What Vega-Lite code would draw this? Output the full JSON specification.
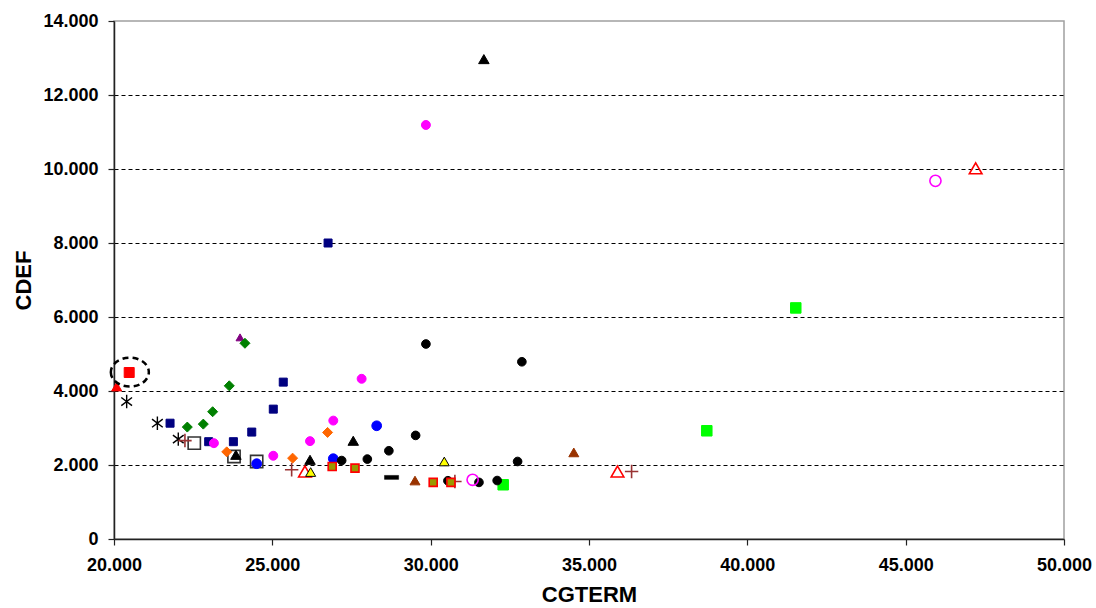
{
  "$schema": "https://vega.github.io/schema/vega-lite/v6.json",
  "width": 950,
  "height": 518,
  "autosize": {"type": "none"},
  "padding": {"left": 114, "top": 21, "right": 32, "bottom": 69},
  "background": "white",
  "config": {
    "view": {"stroke": "#a0a0a0", "strokeWidth": 1.5},
    "font": "Liberation Sans",
    "axis": {
      "labelFont": "Liberation Sans",
      "labelFontWeight": "bold",
      "labelFontSize": 18,
      "labelColor": "#000000",
      "labelFlush": false,
      "labelOverlap": false,
      "titleFont": "Liberation Sans",
      "titleFontWeight": "bold",
      "titleFontSize": 22,
      "titleColor": "#000000",
      "domainColor": "#222222",
      "domainWidth": 1.5,
      "tickColor": "#222222",
      "tickWidth": 1.2,
      "tickSize": 6
    }
  },
  "layer": [
    {
      "data": {
        "values": [
          {"CGTERM": 31680, "CDEF": 12970, "series": "black_tri"},
          {"CGTERM": 29850, "CDEF": 11190, "series": "magenta_circ"},
          {"CGTERM": 45940, "CDEF": 9680, "series": "magenta_open_circ"},
          {"CGTERM": 47210, "CDEF": 10020, "series": "red_open_tri"},
          {"CGTERM": 26760, "CDEF": 8000, "series": "navy_sq"},
          {"CGTERM": 41530, "CDEF": 6245, "series": "lime_sq"},
          {"CGTERM": 38720, "CDEF": 2925, "series": "lime_sq"},
          {"CGTERM": 32290, "CDEF": 1466, "series": "lime_sq"},
          {"CGTERM": 23980, "CDEF": 5450, "series": "purple_tri"},
          {"CGTERM": 24135, "CDEF": 5290, "series": "green_dia"},
          {"CGTERM": 29850, "CDEF": 5270, "series": "black_circ"},
          {"CGTERM": 32880, "CDEF": 4790, "series": "black_circ"},
          {"CGTERM": 20480, "CDEF": 4500, "series": "red_sq"},
          {"CGTERM": 20085, "CDEF": 4120, "series": "red_tri"},
          {"CGTERM": 20400, "CDEF": 3715, "series": "asterisk"},
          {"CGTERM": 21370, "CDEF": 3130, "series": "asterisk"},
          {"CGTERM": 22030, "CDEF": 2700, "series": "asterisk"},
          {"CGTERM": 21770, "CDEF": 3130, "series": "navy_sq"},
          {"CGTERM": 22990, "CDEF": 2630, "series": "navy_sq"},
          {"CGTERM": 24350, "CDEF": 2890, "series": "navy_sq"},
          {"CGTERM": 23770, "CDEF": 2630, "series": "navy_sq"},
          {"CGTERM": 25030, "CDEF": 3510, "series": "navy_sq"},
          {"CGTERM": 25345, "CDEF": 4240, "series": "navy_sq"},
          {"CGTERM": 22315, "CDEF": 3025, "series": "green_dia"},
          {"CGTERM": 22820, "CDEF": 3105, "series": "green_dia"},
          {"CGTERM": 23115, "CDEF": 3440, "series": "green_dia"},
          {"CGTERM": 23640, "CDEF": 4140, "series": "green_dia"},
          {"CGTERM": 22535, "CDEF": 2590, "series": "open_sq"},
          {"CGTERM": 23790, "CDEF": 2230, "series": "open_sq"},
          {"CGTERM": 24505, "CDEF": 2095, "series": "open_sq"},
          {"CGTERM": 23155, "CDEF": 2590, "series": "magenta_circ"},
          {"CGTERM": 25030, "CDEF": 2250, "series": "magenta_circ"},
          {"CGTERM": 27820, "CDEF": 4330, "series": "magenta_circ"},
          {"CGTERM": 26925, "CDEF": 3200, "series": "magenta_circ"},
          {"CGTERM": 26190, "CDEF": 2645, "series": "magenta_circ"},
          {"CGTERM": 23560, "CDEF": 2355, "series": "orange_dia"},
          {"CGTERM": 25640, "CDEF": 2185, "series": "orange_dia"},
          {"CGTERM": 26745, "CDEF": 2880, "series": "orange_dia"},
          {"CGTERM": 23850, "CDEF": 2275, "series": "black_tri"},
          {"CGTERM": 26190, "CDEF": 2140, "series": "black_tri"},
          {"CGTERM": 27555, "CDEF": 2655, "series": "black_tri"},
          {"CGTERM": 24505, "CDEF": 2035, "series": "blue_circ"},
          {"CGTERM": 26925, "CDEF": 2170, "series": "blue_circ"},
          {"CGTERM": 28295, "CDEF": 3060, "series": "blue_circ"},
          {"CGTERM": 22240, "CDEF": 2660, "series": "brown_plus"},
          {"CGTERM": 25610, "CDEF": 1870, "series": "brown_plus"},
          {"CGTERM": 30765, "CDEF": 1555, "series": "brown_plus"},
          {"CGTERM": 36345, "CDEF": 1825, "series": "brown_plus"},
          {"CGTERM": 26030, "CDEF": 1825, "series": "red_open_tri"},
          {"CGTERM": 35900, "CDEF": 1825, "series": "red_open_tri"},
          {"CGTERM": 26210, "CDEF": 1810, "series": "yellow_tri"},
          {"CGTERM": 30430, "CDEF": 2095, "series": "yellow_tri"},
          {"CGTERM": 27190, "CDEF": 2120, "series": "black_circ"},
          {"CGTERM": 28000, "CDEF": 2160, "series": "black_circ"},
          {"CGTERM": 28680, "CDEF": 2385, "series": "black_circ"},
          {"CGTERM": 29525, "CDEF": 2800, "series": "black_circ"},
          {"CGTERM": 31525, "CDEF": 1530, "series": "black_circ"},
          {"CGTERM": 32100, "CDEF": 1580, "series": "black_circ"},
          {"CGTERM": 32745, "CDEF": 2095, "series": "black_circ"},
          {"CGTERM": 30545, "CDEF": 1575, "series": "black_circ"},
          {"CGTERM": 26890, "CDEF": 1960, "series": "olive_sq"},
          {"CGTERM": 27610, "CDEF": 1915, "series": "olive_sq"},
          {"CGTERM": 30080, "CDEF": 1530, "series": "olive_sq"},
          {"CGTERM": 30640, "CDEF": 1530, "series": "olive_sq"},
          {"CGTERM": 28765, "CDEF": 1665, "series": "black_dash"},
          {"CGTERM": 29505, "CDEF": 1580, "series": "brown_tri"},
          {"CGTERM": 34520, "CDEF": 2340, "series": "brown_tri"},
          {"CGTERM": 31325, "CDEF": 1600, "series": "magenta_open_circ"}
        ]
      },
      "mark": {"type": "point", "filled": false, "opacity": 1},
      "encoding": {
        "x": {
          "field": "CGTERM", "type": "quantitative",
          "scale": {"domain": [20000, 50000], "nice": false, "zero": false},
          "axis": {
            "title": "CGTERM",
            "values": [20000, 25000, 30000, 35000, 40000, 45000, 50000],
            "labelExpr": "replace(format(datum.value, ','), ',', '.')",
            "labelPadding": 11,
            "titlePadding": 10,
            "grid": false
          }
        },
        "y": {
          "field": "CDEF", "type": "quantitative",
          "scale": {"domain": [0, 14000], "nice": false},
          "axis": {
            "title": "CDEF",
            "values": [0, 2000, 4000, 6000, 8000, 10000, 12000, 14000],
            "labelExpr": "replace(format(datum.value, ','), ',', '.')",
            "labelPadding": 10,
            "titlePadding": 7,
            "grid": true,
            "gridColor": "#000000",
            "gridDash": [4, 3],
            "gridWidth": 1,
            "gridOpacity": {"condition": {"test": "datum.value == 14000 || datum.value == 0", "value": 0}, "value": 1}
          }
        },
        "shape": {
          "field": "series", "type": "nominal", "legend": null,
          "scale": {
            "domain": ["navy_sq", "green_dia", "magenta_circ", "orange_dia", "black_tri", "blue_circ", "black_circ", "lime_sq", "red_sq", "red_tri", "asterisk", "open_sq", "brown_plus", "red_open_tri", "yellow_tri", "olive_sq", "black_dash", "brown_tri", "magenta_open_circ", "purple_tri"],
            "range": ["square", "diamond", "circle", "diamond", "triangle-up", "circle", "circle", "square", "square", "triangle-up",
              "M0,-1L0,1M-0.8,-0.6L0.8,0.6M-0.8,0.6L0.8,-0.6",
              "square", "M-1,0L1,0M0,-1L0,1", "triangle-up", "triangle-up", "square",
              "M-1,-0.28L1,-0.28L1,0.28L-1,0.28Z", "triangle-up", "circle", "triangle-up"]
          }
        },
        "fill": {
          "field": "series", "type": "nominal", "legend": null,
          "scale": {
            "domain": ["navy_sq", "green_dia", "magenta_circ", "orange_dia", "black_tri", "blue_circ", "black_circ", "lime_sq", "red_sq", "red_tri", "asterisk", "open_sq", "brown_plus", "red_open_tri", "yellow_tri", "olive_sq", "black_dash", "brown_tri", "magenta_open_circ", "purple_tri"],
            "range": ["#000080", "#008000", "#FF00FF", "#FF6600", "#000000", "#0000FF", "#000000", "#00FF00", "#FF0000", "#FF0000", "transparent", "transparent", "transparent", "transparent", "#FFFF00", "#999900", "#000000", "#993300", "transparent", "#800080"]
          }
        },
        "stroke": {
          "field": "series", "type": "nominal", "legend": null,
          "scale": {
            "domain": ["navy_sq", "green_dia", "magenta_circ", "orange_dia", "black_tri", "blue_circ", "black_circ", "lime_sq", "red_sq", "red_tri", "asterisk", "open_sq", "brown_plus", "red_open_tri", "yellow_tri", "olive_sq", "black_dash", "brown_tri", "magenta_open_circ", "purple_tri"],
            "range": ["#000080", "#008000", "#FF00FF", "#FF6600", "#000000", "#0000FF", "#000000", "#00FF00", "#FF0000", "#FF0000", "#000000", "#333333", "#993333", "#FF0000", "#000000", "#FF0000", "#000000", "#993300", "#FF00FF", "#800080"]
          }
        },
        "size": {
          "field": "series", "type": "nominal", "legend": null,
          "scale": {
            "type": "ordinal",
            "domain": ["navy_sq", "green_dia", "magenta_circ", "orange_dia", "black_tri", "blue_circ", "black_circ", "lime_sq", "red_sq", "red_tri", "asterisk", "open_sq", "brown_plus", "red_open_tri", "yellow_tri", "olive_sq", "black_dash", "brown_tri", "magenta_open_circ", "purple_tri"],
            "range": [64, 100, 80, 100, 110, 95, 75, 110, 100, 100, 180, 150, 180, 160, 100, 64, 200, 100, 125, 64]
          }
        },
        "strokeWidth": {
          "field": "series", "type": "nominal", "legend": null,
          "scale": {
            "type": "ordinal",
            "domain": ["navy_sq", "green_dia", "magenta_circ", "orange_dia", "black_tri", "blue_circ", "black_circ", "lime_sq", "red_sq", "red_tri", "asterisk", "open_sq", "brown_plus", "red_open_tri", "yellow_tri", "olive_sq", "black_dash", "brown_tri", "magenta_open_circ", "purple_tri"],
            "range": [1, 1, 1, 1, 1, 1, 1, 1, 1, 1, 1.4, 1.6, 1.6, 1.6, 1, 1.6, 0.5, 1, 1.6, 1]
          }
        }
      }
    },
    {
      "data": {"values": [{"CGTERM": 20500, "CDEF": 4510}]},
      "mark": {
        "type": "point",
        "shape": "M-1,0A1,0.76,0,1,0,1,0A1,0.76,0,1,0,-1,0Z",
        "size": 1444,
        "filled": false,
        "stroke": "#000000",
        "strokeWidth": 2.5,
        "strokeDash": [6, 4],
        "opacity": 1
      },
      "encoding": {
        "x": {"field": "CGTERM", "type": "quantitative"},
        "y": {"field": "CDEF", "type": "quantitative"}
      }
    }
  ]
}
